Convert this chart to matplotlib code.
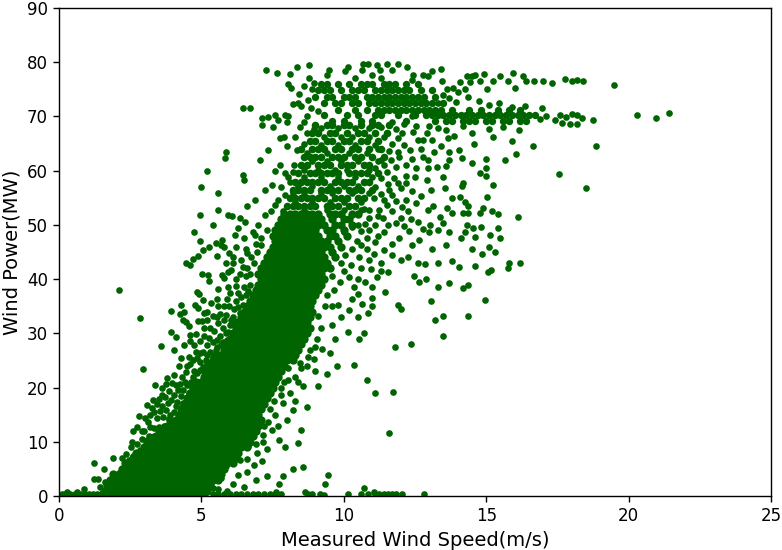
import matplotlib
matplotlib.use('Agg')
import matplotlib.pyplot as plt

# Dense band: one list of speeds for each power level
core_power = [0.4, 1, 2, 3, 4, 5, 6, 7, 8, 9, 10, 11, 12, 13, 14, 15, 16, 17, 18, 19, 20, 21, 22, 23, 24, 25, 26,
              27, 28, 29, 30, 31, 32, 33, 34, 35, 36, 37, 38, 39, 40, 41, 42, 43, 44, 45, 46, 47, 48, 49, 50, 51, 52]
core_speed = [
    [1.7, 1.9, 2.1, 2.3, 2.5, 2.7, 2.9, 3.1, 3.3, 3.5, 3.7, 3.9, 4.1, 4.3, 4.5, 4.7, 4.9, 5.1],
    [1.6, 1.8, 2.0, 2.2, 2.4, 2.6, 2.8, 3.0, 3.2, 3.4, 3.6, 3.8, 4.0, 4.2, 4.4, 4.6, 4.8, 5.0, 5.2],
    [1.7, 1.9, 2.1, 2.3, 2.5, 2.7, 2.9, 3.1, 3.3, 3.5, 3.7, 3.9, 4.1, 4.3, 4.5, 4.7, 4.9, 5.1, 5.3],
    [1.8, 2.0, 2.2, 2.4, 2.6, 2.8, 3.0, 3.2, 3.4, 3.6, 3.8, 4.0, 4.2, 4.4, 4.6, 4.8, 5.0, 5.2, 5.4, 5.6],
    [1.9, 2.1, 2.3, 2.5, 2.7, 2.9, 3.1, 3.3, 3.5, 3.7, 3.9, 4.1, 4.3, 4.5, 4.7, 4.9, 5.1, 5.3, 5.5, 5.7],
    [2.2, 2.4, 2.6, 2.8, 3.0, 3.2, 3.4, 3.6, 3.8, 4.0, 4.2, 4.4, 4.6, 4.8, 5.0, 5.2, 5.4, 5.6, 5.8],
    [2.3, 2.5, 2.7, 2.9, 3.1, 3.3, 3.5, 3.7, 3.9, 4.1, 4.3, 4.5, 4.7, 4.9, 5.1, 5.3, 5.5, 5.7, 5.9, 6.1],
    [2.6, 2.8, 3.0, 3.2, 3.4, 3.6, 3.8, 4.0, 4.2, 4.4, 4.6, 4.8, 5.0, 5.2, 5.4, 5.6, 5.8, 6.0, 6.2],
    [2.7, 2.9, 3.1, 3.3, 3.5, 3.7, 3.9, 4.1, 4.3, 4.5, 4.7, 4.9, 5.1, 5.3, 5.5, 5.7, 5.9, 6.1, 6.3],
    [3.0, 3.2, 3.4, 3.6, 3.8, 4.0, 4.2, 4.4, 4.6, 4.8, 5.0, 5.2, 5.4, 5.6, 5.8, 6.0, 6.2, 6.4, 6.6],
    [3.1, 3.3, 3.5, 3.7, 3.9, 4.1, 4.3, 4.5, 4.7, 4.9, 5.1, 5.3, 5.5, 5.7, 5.9, 6.1, 6.3, 6.5, 6.7],
    [3.4, 3.6, 3.8, 4.0, 4.2, 4.4, 4.6, 4.8, 5.0, 5.2, 5.4, 5.6, 5.8, 6.0, 6.2, 6.4, 6.6, 6.8],
    [3.5, 3.7, 3.9, 4.1, 4.3, 4.5, 4.7, 4.9, 5.1, 5.3, 5.5, 5.7, 5.9, 6.1, 6.3, 6.5, 6.7, 6.9],
    [3.8, 4.0, 4.2, 4.4, 4.6, 4.8, 5.0, 5.2, 5.4, 5.6, 5.8, 6.0, 6.2, 6.4, 6.6, 6.8, 7.0],
    [3.9, 4.1, 4.3, 4.5, 4.7, 4.9, 5.1, 5.3, 5.5, 5.7, 5.9, 6.1, 6.3, 6.5, 6.7, 6.9, 7.1],
    [4.2, 4.4, 4.6, 4.8, 5.0, 5.2, 5.4, 5.6, 5.8, 6.0, 6.2, 6.4, 6.6, 6.8, 7.0],
    [4.3, 4.5, 4.7, 4.9, 5.1, 5.3, 5.5, 5.7, 5.9, 6.1, 6.3, 6.5, 6.7, 6.9, 7.1],
    [4.4, 4.6, 4.8, 5.0, 5.2, 5.4, 5.6, 5.8, 6.0, 6.2, 6.4, 6.6, 6.8, 7.0, 7.2],
    [4.5, 4.7, 4.9, 5.1, 5.3, 5.5, 5.7, 5.9, 6.1, 6.3, 6.5, 6.7, 6.9, 7.1, 7.3],
    [4.6, 4.8, 5.0, 5.2, 5.4, 5.6, 5.8, 6.0, 6.2, 6.4, 6.6, 6.8, 7.0, 7.2, 7.4],
    [4.7, 4.9, 5.1, 5.3, 5.5, 5.7, 5.9, 6.1, 6.3, 6.5, 6.7, 6.9, 7.1, 7.3, 7.5],
    [4.8, 5.0, 5.2, 5.4, 5.6, 5.8, 6.0, 6.2, 6.4, 6.6, 6.8, 7.0, 7.2, 7.4, 7.6],
    [5.1, 5.3, 5.5, 5.7, 5.9, 6.1, 6.3, 6.5, 6.7, 6.9, 7.1, 7.3, 7.5, 7.7],
    [5.2, 5.4, 5.6, 5.8, 6.0, 6.2, 6.4, 6.6, 6.8, 7.0, 7.2, 7.4, 7.6, 7.8],
    [5.3, 5.5, 5.7, 5.9, 6.1, 6.3, 6.5, 6.7, 6.9, 7.1, 7.3, 7.5, 7.7, 7.9],
    [5.4, 5.6, 5.8, 6.0, 6.2, 6.4, 6.6, 6.8, 7.0, 7.2, 7.4, 7.6, 7.8, 8.0, 8.2],
    [5.5, 5.7, 5.9, 6.1, 6.3, 6.5, 6.7, 6.9, 7.1, 7.3, 7.5, 7.7, 7.9, 8.1, 8.3],
    [5.8, 6.0, 6.2, 6.4, 6.6, 6.8, 7.0, 7.2, 7.4, 7.6, 7.8, 8.0, 8.2, 8.4],
    [5.9, 6.1, 6.3, 6.5, 6.7, 6.9, 7.1, 7.3, 7.5, 7.7, 7.9, 8.1, 8.3, 8.5],
    [6.0, 6.2, 6.4, 6.6, 6.8, 7.0, 7.2, 7.4, 7.6, 7.8, 8.0, 8.2, 8.4, 8.6],
    [6.1, 6.3, 6.5, 6.7, 6.9, 7.1, 7.3, 7.5, 7.7, 7.9, 8.1, 8.3, 8.5, 8.7],
    [6.2, 6.4, 6.6, 6.8, 7.0, 7.2, 7.4, 7.6, 7.8, 8.0, 8.2, 8.4, 8.6, 8.8],
    [6.3, 6.5, 6.7, 6.9, 7.1, 7.3, 7.5, 7.7, 7.9, 8.1, 8.3, 8.5, 8.7],
    [6.4, 6.6, 6.8, 7.0, 7.2, 7.4, 7.6, 7.8, 8.0, 8.2, 8.4, 8.6, 8.8],
    [6.5, 6.7, 6.9, 7.1, 7.3, 7.5, 7.7, 7.9, 8.1, 8.3, 8.5, 8.7, 8.9],
    [6.6, 6.8, 7.0, 7.2, 7.4, 7.6, 7.8, 8.0, 8.2, 8.4, 8.6, 8.8],
    [6.7, 6.9, 7.1, 7.3, 7.5, 7.7, 7.9, 8.1, 8.3, 8.5, 8.7, 8.9],
    [6.8, 7.0, 7.2, 7.4, 7.6, 7.8, 8.0, 8.2, 8.4, 8.6, 8.8, 9.0],
    [6.9, 7.1, 7.3, 7.5, 7.7, 7.9, 8.1, 8.3, 8.5, 8.7, 8.9, 9.1],
    [7.0, 7.2, 7.4, 7.6, 7.8, 8.0, 8.2, 8.4, 8.6, 8.8, 9.0, 9.2],
    [7.1, 7.3, 7.5, 7.7, 7.9, 8.1, 8.3, 8.5, 8.7, 8.9, 9.1, 9.3],
    [7.0, 7.2, 7.4, 7.6, 7.8, 8.0, 8.2, 8.4, 8.6, 8.8, 9.0, 9.2],
    [7.1, 7.3, 7.5, 7.7, 7.9, 8.1, 8.3, 8.5, 8.7, 8.9, 9.1, 9.3, 9.5],
    [7.2, 7.4, 7.6, 7.8, 8.0, 8.2, 8.4, 8.6, 8.8, 9.0, 9.2, 9.4],
    [7.3, 7.5, 7.7, 7.9, 8.1, 8.3, 8.5, 8.7, 8.9, 9.1, 9.3, 9.7],
    [7.4, 7.6, 7.8, 8.0, 8.2, 8.4, 8.6, 8.8, 9.0, 9.2, 9.6],
    [7.5, 7.7, 7.9, 8.1, 8.3, 8.5, 8.7, 8.9, 9.1, 9.3, 9.5, 9.9],
    [7.6, 7.8, 8.0, 8.2, 8.4, 8.6, 8.8, 9.0, 9.2, 9.4, 9.8],
    [7.5, 7.7, 7.9, 8.1, 8.3, 8.5, 8.7, 8.9, 9.1, 9.5, 9.7, 10.1],
    [7.6, 7.8, 8.0, 8.2, 8.4, 8.6, 8.8, 9.0, 9.4, 9.6, 10.0],
    [7.7, 7.9, 8.1, 8.3, 8.5, 8.7, 8.9, 9.1, 9.3, 9.7, 9.9, 10.3],
    [7.8, 8.0, 8.2, 8.4, 8.6, 8.8, 9.0, 9.2, 9.6, 10.0, 10.2],
    [7.9, 8.1, 8.3, 8.5, 8.7, 8.9, 9.1, 9.5, 9.7, 9.9, 10.3, 10.5],
]

# Lacy part above the dense band
lace_power = [53.5, 55, 56.5, 58, 59.5, 61, 62.5, 64, 65.5, 67, 68.5]
lace_speed = [
    [8.0, 8.2, 8.4, 8.6, 8.8, 9.0, 9.4, 9.6, 9.8, 10.2, 10.4],
    [8.1, 8.3, 8.5, 8.7, 8.9, 9.1, 9.3, 9.7, 9.9, 10.1, 10.5, 10.7],
    [8.2, 8.4, 8.6, 8.8, 9.2, 9.4, 9.6, 9.8, 10.2, 10.4, 10.6, 11.0],
    [8.3, 8.5, 8.7, 8.9, 9.1, 9.3, 9.7, 9.9, 10.1, 10.3, 10.7, 10.9],
    [8.4, 8.8, 9.0, 9.2, 9.4, 9.6, 9.8, 10.2, 10.4, 10.6, 10.8, 11.2],
    [8.5, 8.7, 9.1, 9.3, 9.5, 9.9, 10.1, 10.3, 10.7, 10.9],
    [8.6, 8.8, 9.0, 9.2, 9.6, 9.8, 10.0, 10.4, 10.6, 11.0, 11.4],
    [8.5, 8.9, 9.1, 9.3, 9.7, 9.9, 10.3, 10.5, 10.9, 11.3],
    [8.8, 9.0, 9.4, 9.6, 10.0, 10.2, 10.6, 10.8, 11.2],
    [8.9, 9.1, 9.5, 9.7, 10.1, 10.5, 10.7, 11.1, 11.5],
    [9.0, 9.4, 9.6, 10.0, 10.2, 10.6, 11.0, 11.2, 11.6],
]
# Points that sit between the lace rows
between_power = [52.8, 54.2, 55.8, 57.2, 58.8, 60.2, 61.8, 63.2, 64.8, 66.2, 67.8]
between_speed = [
    [8.6, 9.4, 10.0, 10.6],
    [8.3, 8.9, 9.5, 10.0, 10.6],
    [8.2, 8.6, 9.2, 9.6, 10.3, 10.9],
    [8.4, 8.9, 9.5, 10.0, 10.5],
    [8.6, 9.2, 9.8, 10.4, 11.0],
    [8.6, 9.1, 9.7, 10.1, 10.9],
    [8.9, 9.4, 9.9, 10.5, 11.2],
    [8.7, 9.4, 10.2, 10.8],
    [9.2, 9.8, 10.4, 11.1],
    [9.3, 9.9, 10.3, 10.9],
    [9.2, 9.8, 10.4, 10.9],
]

# Plateau near rated power, with the lower arm running out to the right
plateau_power = [69.2, 70.2, 71.2, 72.4, 73.6, 74.8, 76]
plateau_speed = [
    [9.6, 10.0, 10.6, 11.0, 12.2, 13.2, 13.6, 13.8, 14.2, 14.4, 14.6, 15.0, 15.2, 15.6, 15.8, 16.2, 16.4],
    [9.3, 10.1, 10.5, 11.1, 11.3, 11.9, 12.5, 12.9, 13.1, 13.3, 13.5, 13.7, 13.9, 14.1, 14.3, 14.5, 14.7, 14.9, 15.1,
     15.3, 15.5, 15.7, 15.9, 16.1, 16.3, 16.5, 16.7],
    [9.8, 10.4, 10.8, 11.2, 11.4, 11.6, 11.8, 12.0, 12.2, 12.4, 12.6, 12.8, 13.0, 13.2, 13.4, 13.8, 14.4, 14.8, 15.4,
     15.8, 16.2],
    [9.3, 9.7, 9.9, 10.3, 10.5, 10.9, 11.1, 11.3, 11.5, 11.7, 11.9, 12.1, 12.3, 12.5, 12.7, 12.9, 13.1, 13.5],
    [9.0, 9.4, 9.6, 10.0, 10.2, 10.4, 10.8, 11.0, 11.2, 11.4, 11.6, 11.8, 12.0, 12.2, 12.4, 12.6, 12.8, 13.2],
    [9.1, 9.3, 9.5, 9.9, 10.3, 10.5, 10.7, 11.1, 11.3, 11.5, 11.7, 11.9, 12.1, 12.3, 12.7, 13.1],
    [9.2, 9.4, 9.8, 10.2, 10.6, 10.8, 11.0, 11.4, 11.6, 11.8, 12.2, 12.6],
]

# Left edge of the cloud, (speed, power)
left_fringe = [
    (2.11, 37.9), (2.83, 32.8), (2.94, 23.5), (4.46, 42.9), (4.71, 43.7), (4.89, 44.3), (5.07, 45.4), (5.26, 46),
    (4.95, 47), (5.5, 46.6), (5.69, 46.2), (5.81, 46), (5.54, 44.2), (5.97, 44.9), (5.87, 42.9), (6.11, 42.9),
    (5.01, 41), (5.22, 40.8), (5.25, 39.7), (5.71, 40.8), (5.95, 41.3), (5.81, 40.2), (4.84, 37.7), (4.92, 37.3),
    (5.59, 38.1), (5.56, 36.4), (4.27, 35.2), (3.95, 34.2), (4.4, 34), (4.25, 33.6), (4.37, 32.5), (4.46, 32),
    (4.57, 31.4), (4.78, 35.2), (4.89, 34.7), (5.1, 33.7), (5.21, 34), (5.4, 33.2), (5.66, 33.6), (5.85, 33.4),
    (5.81, 35), (5.98, 35), (4.87, 32.2), (5.01, 32.2), (5.1, 30.9), (5.57, 31.9), (3.93, 30.2), (4.12, 29.4),
    (4.6, 29.7), (4.8, 29.8), (3.57, 27.7), (4.05, 26.9), (4.38, 27.8), (5.25, 29.1), (5.19, 27.9), (5.54, 27.4),
    (4.8, 26.6), (4.95, 26.3), (4.48, 24), (4.6, 24.4), (4.95, 24.8), (4.05, 22.3), (3.78, 21.7), (3.75, 20.7),
    (3.38, 20.5), (4.31, 22), (4.43, 21.1), (4.72, 21.9), (4.19, 19.6), (3.96, 20.8), (3.61, 18.6), (3.72, 18.3),
    (3.31, 17.7), (3.08, 16.7), (3.25, 16.2), (3.84, 17.1), (4.37, 17.1), (2.82, 14.8), (3.02, 14.3), (3.14, 13.7),
    (3.43, 14.3), (2.73, 12.8), (2.61, 11.9), (2.9, 11.9), (2.55, 10), (2.52, 9.1), (3.08, 10.3), (2.37, 7.7),
    (2.22, 7), (1.9, 7), (1.23, 6), (1.58, 4.9), (1.23, 3.1), (1.38, 3.2), (0.88, 1.3), (0.62, 0.8), (0.27, 0.7),
    (0.1, 0.4), (0.2, 0.3), (0.4, 0.4), (0.55, 0.3), (0.75, 0.4), (0.9, 0.3), (1.05, 0.4), (1.2, 0.3), (1.35, 0.4),
    (1.5, 0.5), (1.45, 1.6), (1.6, 2.6), (3.35, 12.5), (3.55, 15.6), (3.9, 15), (3.7, 13), (3.45, 16.9), (4.05, 18.6),
    (4.55, 19), (3.6, 20), (4.2, 24), (4.75, 27.9), (5.3, 31), (5.35, 35.6), (5.65, 29.5), (5.6, 35), (6.0, 37.5),
    (6.2, 38.8), (6.35, 41), (6.4, 43.5), (6.55, 45.5), (6.2, 46), (6.7, 39), (5.95, 38.6), (6.2, 36), (6.35, 33.7),
    (6.1, 33), (5.75, 31), (5.9, 28.8), (5.3, 26.5), (5.15, 25), (5.45, 24.6), (6.4, 36.7), (5.05, 36.1), (6.6, 42),
    (6.1, 44), (6.75, 44), (6.9, 46.5), (6.5, 47.6), (7.1, 47.6), (7.3, 49), (7.0, 50), (6.8, 48.6), (5.1, 22.9),
    (2.1, 4.2), (2.3, 5.6), (2.45, 6.6), (2.6, 7.4), (2.75, 9.6), (2.85, 8.4), (2.9, 10.6), (3.0, 12), (3.2, 12.8),
    (3.2, 15), (3.35, 15.4), (3.5, 17.8), (3.6, 16.6), (3.75, 15.8), (3.85, 19.4), (3.95, 17.7), (4.1, 16.6), (4.1, 20.4),
    (4.3, 18.4), (4.25, 20.7), (4.5, 20.4), (4.45, 22.8), (4.65, 21), (4.75, 23), (4.3, 25.4), (4.55, 25.7), (4.7, 25),
    (4.95, 23.3), (5.05, 26.6), (5.2, 24.5), (4.6, 28.5), (4.95, 28.6), (5.1, 29.5), (5.4, 28.4), (5.55, 26), (5.7, 27.8),
    (5.2, 32.4), (5.45, 30.4), (5.55, 33), (5.8, 32.4), (6.0, 31.5), (5.9, 36.3), (6.15, 34.5), (6.3, 37.5), (6.5, 38.5),
    (6.55, 40.5), (6.2, 40), (6.05, 41.7), (6.45, 42.2), (6.7, 41), (6.85, 43), (6.6, 44.8), (6.95, 45), (7.1, 46.2),
]
left_fill = [
    (2.0, 3), (2.2, 4), (2.45, 5.2), (2.55, 6), (2.8, 7), (3.0, 9), (3.15, 11), (3.35, 11), (3.5, 12.8), (3.65, 14.5),
    (3.85, 14.2), (4.05, 15.4), (4.15, 17.4), (4.3, 16.3), (4.35, 19.5), (4.5, 17.6), (4.6, 20.4), (4.7, 19), (4.85, 22.6),
    (4.9, 20.8), (5.05, 23.8), (4.85, 25.5), (5.2, 26), (5.3, 23.5), (5.4, 25.6), (5.5, 27), (5.55, 28.8), (5.75, 28.4),
    (5.85, 30), (5.95, 30.3), (6.05, 32.5), (6.15, 32), (6.3, 34.8), (6.45, 35.3), (6.55, 37), (6.65, 37.8),
]

# Right edge of the cloud and the low points under it
right_fringe = [
    (8.58, 5.4), (8.2, 5), (7.88, 3.75), (7.73, 2.15), (7.62, 0.8), (7.3, 3.7), (6.92, 3), (6.5, 1.66), (6.1, 2.3),
    (6.59, 4.5), (6.83, 5.7), (7.14, 6.5), (7.3, 8.6), (6.94, 7.9), (7.73, 10.3), (7.95, 9.1), (8.38, 9.7),
    (8.49, 12.1), (8.71, 16.5), (8.7, 23.9), (8.56, 20.2), (8.02, 14.1), (8.23, 15.9), (7.88, 17.1), (7.47, 12.2),
    (7.18, 10), (6.59, 6.9), (6.36, 6.6), (7.6, 15), (7.8, 18.7), (8.1, 19), (8.3, 17.6), (7.9, 21), (8.3, 22),
    (8.45, 24.5), (8.1, 25.7), (8.95, 25.2), (8.8, 27), (9.05, 29), (9.2, 31), (9.1, 33.2), (9.35, 35), (9.6, 35),
    (9.8, 35.2), (9.4, 37), (9.65, 38), (9.85, 39.5), (9.6, 40.6), (10.0, 41.5), (10.2, 40.4), (10.25, 42.6), (9.9, 43),
    (10.05, 44.5), (10.3, 45.6), (10.45, 47), (10.6, 46.2), (10.6, 48.8), (10.75, 50.2), (10.9, 51.2),
    (10, 48.7), (9.7, 29), (9.75, 24), (10.35, 24.1), (9.9, 33), (10.2, 34.3), (10.15, 30.2), (10.55, 29), (10.7, 30),
    (10.5, 33), (10.85, 33.7), (9.6, 31.5), (9.25, 27.2), (9.5, 26.4), (9.0, 23), (9.4, 22.5), (9.1, 20.3), (6.5, 9.3),
    (7.15, 11.3), (7.35, 13.7), (7.7, 13), (7.55, 20.7), (8.05, 23.6), (5.85, 5.6), (5.7, 3.4), (5.5, 3.8), (5.3, 2.6),
    (5.6, 1.2), (5.9, 0.9), (5.4, 1.4), (6.3, 3.9), (5.95, 6.9), (6.15, 7.7), (6.65, 9.2), (6.9, 9.5), (7.2, 13),
    (7.4, 16), (7.55, 17.5), (7.8, 20), (8.05, 21.4), (8.4, 21), (8.5, 23.6), (8.75, 25.7), (9.0, 27.5),
    (10.5, 50), (10.9, 49), (11.2, 48), (10.3, 49.6), (10.55, 44), (10.8, 45.5), (11.05, 44.6), (11.4, 45.4), (11.7, 44.5),
    (11.95, 47.5), (12.1, 49.8), (12.4, 46.2), (10.6, 42), (10.95, 41.8), (11.3, 41.5), (10.5, 40), (10.35, 38.6),
    (11.0, 38.5), (10.65, 35.5), (12.6, 50.5), (12.0, 51.2), (11.55, 50), (12.35, 51), (11.0, 35), (10.3, 36.4),
]

# Row of low output points along the axis and the sparse points out to the right
bottom_row = [
    (5.4, 0.3), (5.6, 0.3), (5.8, 0.3), (6.0, 0.3), (6.2, 0.3), (6.4, 0.3), (6.6, 0.3), (6.8, 0.3), (7.0, 0.3),
    (7.2, 0.3), (7.4, 0.3), (7.6, 0.4), (7.8, 0.3), (8.65, 0.7), (8.75, 0.3), (8.9, 0.4), (9.15, 0.3), (9.3, 0.2),
    (9.45, 3.8), (9.35, 2.2), (10.15, 0.3), (10.6, 0.4), (10.7, 1.5), (11.05, 0.8), (11.25, 0.3), (11.4, 0.3),
    (11.55, 0.3), (11.7, 0.3), (11.85, 0.3), (12.05, 0.3), (12.8, 0.4), (10.85, 0.3), (11.1, 0.4),
]
mid_sparse = [
    (11.6, 11.6), (10.8, 21.4), (11.1, 19), (11.73, 19.2), (11.8, 27.5), (12.36, 28), (13.48, 29.5), (13.2, 32.5),
    (13.5, 33.2), (14.36, 33.2), (14.96, 36.2), (11.9, 35.2), (12, 34.5), (16.19, 43), (15.8, 43), (15.77, 42),
    (15.17, 41.7), (15.06, 41.3), (16.1, 51.5), (18.5, 56.8), (18.86, 64.6), (17.56, 59.4), (19.5, 75.8), (20.3, 70.3),
    (20.96, 69.7), (21.42, 70.7), (13.3, 38.5), (13.7, 39.2), (14.2, 38.4), (14.35, 39), (13.05, 36), (12.65, 39.5),
    (12.9, 40), (12.45, 40.5), (12.0, 43.5), (12.25, 44), (12.6, 43), (12.85, 42.8), (13.3, 43), (13.8, 43.4),
    (14.05, 42.2), (14.6, 42.5), (14.5, 45.5), (14.85, 44.6), (15.1, 46), (15.3, 45), (13.1, 45.5), (13.6, 46.2),
    (14.1, 47.5), (14.6, 47.8), (15.15, 48.2), (15.5, 47.5), (13.0, 48.6), (13.3, 49), (13.7, 48.6), (14.25, 48.7),
    (12.3, 48.8), (12.65, 47.2), (11.7, 46.4), (11.4, 48.6), (11.1, 46.8), (10.8, 47.6), (11.3, 43), (10.9, 43.6),
    (11.55, 41.3), (11.15, 40.4), (10.75, 39.4), (10.5, 37.2), (11, 36.6), (11.45, 37.7),
]

# Sparse points around the upper cloud and its two arms
upper_cloud = [
    (8.37, 79.2), (8.79, 79.4), (8.11, 77.9), (8.77, 77.1), (9.48, 78.5), (9.4, 77.7), (10.16, 79.1), (10.04, 78.3),
    (10.69, 79.7), (10.86, 79.7), (10.63, 78.5), (11.15, 79.5), (11.5, 79.7), (11.91, 79.7), (12.21, 79.2), (11.68, 78.6),
    (11.27, 78.6), (10.98, 77.7), (12.44, 77.7), (12.79, 77.7), (13.09, 78.3), (13.41, 78.8), (12.97, 77.4), (13.46, 76.6),
    (8.05, 76), (8.15, 75.2), (8.43, 74.2), (8.23, 72.3), (8.05, 70), (13.61, 75), (13.85, 75.2), (14.08, 76.3),
    (14.31, 77.4), (14.49, 77.5), (14.6, 77.7), (14.92, 77.8), (15.48, 77.4), (15.95, 78), (15.78, 76.6), (16.3, 77.4),
    (16.39, 76.6), (16.68, 76.6), (16.01, 75.2), (15.25, 76.5), (15.02, 75.1), (14.78, 76.6), (14.43, 76.4), (14.26, 75),
    (14, 74.6), (17.0, 76.5), (17.3, 76.2), (17.75, 76.9), (18.0, 76.6), (18.2, 76.8), (18.4, 76.5), (16.95, 71.6),
    (16.9, 69.5), (17.1, 70), (17.4, 69.3), (17.6, 70.2), (17.8, 69.9), (18.0, 70.4), (18.2, 70.2),
    (18.35, 69.8), (18.75, 69.3), (18.2, 68.6), (17.65, 68.8), (17.95, 68.6), (12.4, 76.8), (11.3, 77), (10.4, 77),
    (12.03, 66.9), (12.44, 67.2), (12.91, 66.9), (12.62, 65.7), (13.09, 65.7), (12.79, 65.7), (13.67, 66.1), (13.88, 66.4),
    (14.57, 65), (15.25, 66.2), (15.92, 65.5), (16.63, 64.5), (16.05, 63.1), (15.67, 62), (15, 62.2), (13.41, 64.6),
    (14.03, 63.8), (13.7, 63.4), (13.7, 62), (14.16, 62.3), (14.51, 61.5), (15, 60.5), (14.78, 59.5), (14.98, 59),
    (15.25, 57.4), (15.02, 55.1), (14.2, 57.7), (14.14, 57.1), (13.5, 58.9), (13.58, 60.8), (13.26, 60.6), (12.97, 60.5),
    (12.79, 62.6), (12.97, 62), (12.38, 62.2), (12.32, 63.8), (13.05, 56.5), (13.55, 56.8), (12.91, 58.3), (13.79, 54.9),
    (14.08, 55.1), (14.26, 54.3), (14.37, 53.4), (14.9, 53.1), (15.19, 52.6), (15.43, 52), (14.78, 52.2), (14.37, 52.2),
    (14.17, 52.2), (13.61, 53.1), (13.79, 52.2), (13.14, 53.4), (12.97, 52.7), (13.38, 51.5), (13.5, 50.3), (14.31, 50),
    (14.82, 49.6), (15.43, 49.5), (14.55, 49.4), (13.03, 50), (12.79, 49.2), (11.82, 50.3), (11.1, 50), (11.37, 51.2),
    (11.9, 63.5), (11.7, 65), (11.95, 62.5), (11.4, 61), (11.75, 58.6), (12.2, 59), (12.5, 58.8), (11.3, 58.6), (11.6, 56.4),
    (12, 56.8), (12.4, 56.3), (11.4, 54.6), (11.85, 54.4), (12.2, 54.5), (11.25, 52.7), (11.7, 52.6), (12.25, 52.5),
    (11.05, 55), (11.1, 57), (11.5, 59.8), (11.85, 60.6), (11.65, 62), (11.85, 67.6), (8.45, 68), (8.7, 67), (8.3, 66.3),
    (8.4, 72.5), (8.85, 71.5), (8.7, 70), (8.75, 73), (8.6, 75.6), (8.95, 76.2),
]
upper_extra = [
    (8.9, 75), (8.5, 72), (9.1, 71), (8.6, 69), (8.95, 67.6), (8.6, 65), (8.35, 63.8), (8.25, 61), (8.2, 59.8), (8.05, 58.8),
    (7.85, 52.5), (7.7, 54.5), (11.3, 68), (11.7, 69), (12.1, 68.6), (12.4, 70), (11.9, 66), (11.4, 66.3), (11.2, 64),
    (11.6, 63.6), (12.1, 64.8), (12.55, 68.3), (13, 68.2), (13.3, 67.8), (12.7, 64), (13.15, 63.4), (11.3, 62), (11.1, 60.5),
    (11.55, 57.6), (11.9, 57.8), (12.2, 57.7), (12.55, 60.5), (12.2, 61), (11.3, 55.7), (11.7, 55.6), (12.05, 53.3),
    (12.55, 54), (12.7, 55.4), (11.5, 53.6), (10.9, 52.7), (11.2, 51.7), (10.7, 53), (13.6, 67.5), (14.5, 67), (14.2, 68.2),
    (15.1, 67.6), (15.6, 68), (16.15, 67.5), (13.3, 72.5), (13.7, 73.4), (13.95, 72.7), (14.35, 73.5), (14.75, 72.9),
    (15.1, 72.1), (15.45, 72.5), (15.9, 71.7), (16.35, 71.9), (13.5, 74),
]
# Thin scatter left of the main cloud at high output
left_upper = [
    (5.2, 60), (5, 57), (5.83, 62.4), (5.86, 63.5), (6.46, 71.6), (6.7, 71.6), (7.27, 78.6), (7.65, 78), (6.46, 59.2),
    (6.5, 58.3), (5.58, 55.9), (5.58, 52.8), (4.95, 51.8), (4.74, 48.7), (7.13, 68.5), (7.13, 69.7), (7.58, 70.3),
    (7.94, 70.3), (7.34, 63.8), (7.76, 61), (7.06, 62), (7.23, 56.5), (7.48, 57.4), (6.88, 54.6), (6.36, 51.3), (6.07, 51.7),
    (5.93, 51.8), (6.53, 50.6), (5.41, 50), (5.72, 47.2), (6.18, 48.2), (4.6, 42.6), (6.88, 48.2), (7.23, 51.8), (7.58, 53.7),
    (7.94, 55.5), (8.11, 57.9), (7.7, 69.3), (8, 69), (7.35, 69.9), (7.9, 66.3), (8, 64.5), (7.6, 60), (7.95, 59.5), (7.8, 57),
    (7.45, 52.6), (6.6, 53.5), (6.3, 49.5), (7.75, 66), (7.5, 68),
]

x_ticks = [0, 5, 10, 15, 20, 25]
y_ticks = [0, 10, 20, 30, 40, 50, 60, 70, 80, 90]

fig = plt.figure(figsize=(7.82, 5.5), dpi=100)
ax = fig.add_axes([59 / 782, 1 - 496 / 550, 712 / 782, 488 / 550])

dark_green = '#006400'
# Rows in the packed areas use a slightly bigger dot so they close up
for levels, rows, size in [(core_power, core_speed, 36), (lace_power, lace_speed, 30),
                           (between_power, between_speed, 23), (plateau_power, plateau_speed, 28)]:
    for p, speeds in zip(levels, rows):
        ax.scatter(speeds, [p] * len(speeds), s=size, color=dark_green, linewidths=0)
for group in [left_fringe, left_fill, right_fringe, bottom_row, mid_sparse, upper_cloud, upper_extra, left_upper]:
    ax.scatter([g[0] for g in group], [g[1] for g in group], s=23, color=dark_green, linewidths=0)

ax.set_xlim(0, 25)
ax.set_ylim(0, 90)
ax.set_xticks(x_ticks)
ax.set_yticks(y_ticks)
ax.tick_params(labelsize=12, width=1, length=4.5)
ax.set_xlabel('Measured Wind Speed(m/s)', fontsize=14, labelpad=4)
ax.set_ylabel('Wind Power(MW)', fontsize=14, labelpad=4)
for s in ax.spines.values():
    s.set_linewidth(1)

plt.savefig('out.png')
